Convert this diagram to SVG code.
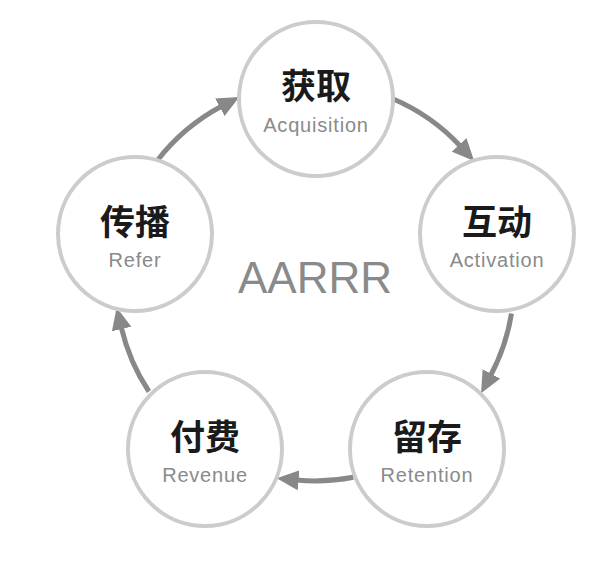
<svg xmlns="http://www.w3.org/2000/svg" width="600" height="578" viewBox="0 0 600 578">
<style>
.node circle{fill:#fff;stroke:#cccccc;stroke-width:4}
.zh{font-family:"Noto Sans CJK SC","Noto Sans CJK JP",sans-serif;font-size:35px;font-weight:bold;fill:#1a1a1a;text-anchor:middle}
.en{font-family:"Liberation Sans",Arial,sans-serif;font-size:20px;fill:#8a8a8a;text-anchor:middle;letter-spacing:0.8px}
.title{font-family:"Liberation Sans",Arial,sans-serif;font-size:44px;fill:#8a8a8a;text-anchor:middle}
.conn path{fill:none;stroke:#888888;stroke-width:5}
</style>
<defs>
<marker id="ah" markerUnits="userSpaceOnUse" viewBox="0 0 22 20" markerWidth="22" markerHeight="20" refX="2" refY="10" orient="auto">
<path d="M0,0 L22,10 L0,20 z" fill="#888888"/>
</marker>
</defs>
<rect width="600" height="578" fill="#ffffff"/>
<g id="connectors" class="conn">
<path d="M392.7,98.8 A199,199 0 0 1 460.5,146.3" marker-end="url(#ah)"/>
<path d="M511.5,313.5 A199,199 0 0 1 490.5,375.7" marker-end="url(#ah)"/>
<path d="M353.3,477.3 A199,199 0 0 1 296.6,480.1" marker-end="url(#ah)"/>
<path d="M148.9,391.5 A199,199 0 0 1 121.2,327.1" marker-end="url(#ah)"/>
<path d="M157.2,160.7 A199,199 0 0 1 221.6,106.3" marker-end="url(#ah)"/>
</g>
<text class="title" x="315" y="293">AARRR</text>
<g id="acquisition" class="node">
<circle cx="316" cy="99" r="77"/>
<text class="zh" x="316" y="99">获取</text>
<text class="en" x="316" y="132">Acquisition</text>
</g>
<g id="activation" class="node">
<circle cx="497" cy="234" r="77"/>
<text class="zh" x="497" y="235">互动</text>
<text class="en" x="497" y="267">Activation</text>
</g>
<g id="retention" class="node">
<circle cx="427" cy="449" r="77"/>
<text class="zh" x="427" y="450">留存</text>
<text class="en" x="427" y="482">Retention</text>
</g>
<g id="revenue" class="node">
<circle cx="205" cy="449" r="77"/>
<text class="zh" x="205" y="450">付费</text>
<text class="en" x="205" y="482">Revenue</text>
</g>
<g id="refer" class="node">
<circle cx="135" cy="234" r="77"/>
<text class="zh" x="135" y="235">传播</text>
<text class="en" x="135" y="267">Refer</text>
</g>
</svg>
